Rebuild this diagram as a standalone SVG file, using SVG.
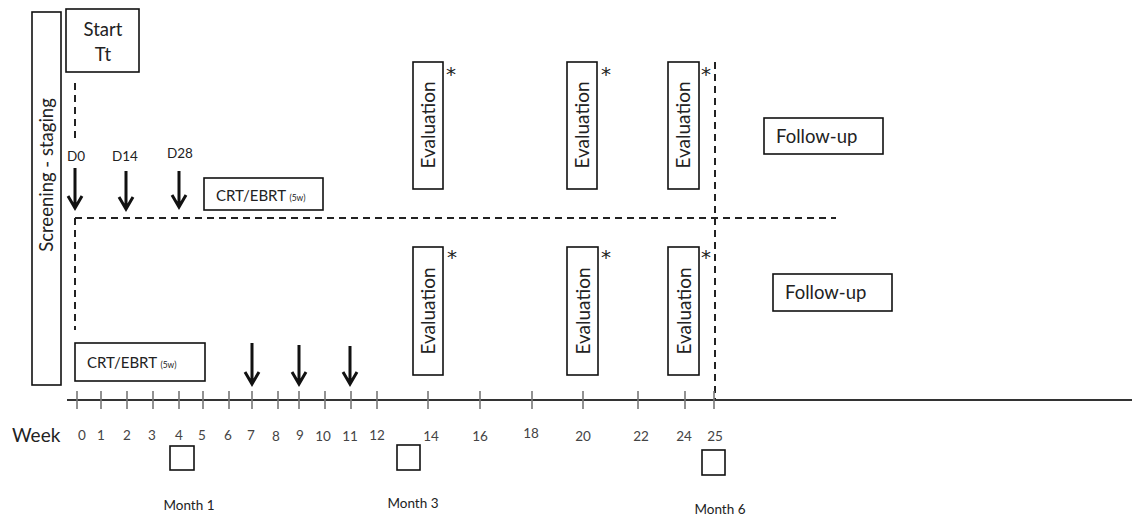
<svg xmlns="http://www.w3.org/2000/svg" width="1132" height="518" viewBox="0 0 1132 518">
<defs>
<style>
text{font-family:Lato,"Open Sans","Liberation Sans",sans-serif;fill:#222}
.box{fill:#fff;stroke:#111;stroke-width:1.6}
.dash{stroke:#222;stroke-width:2;stroke-dasharray:7,5;fill:none}
.arr{stroke:#111;stroke-width:3;fill:none;stroke-linejoin:miter}
.tick{stroke:#777;stroke-width:1.6}
.lab{font-size:18.5px}
.num{font-size:13.5px;text-anchor:middle;fill:#444}
.mon{font-size:13.5px;text-anchor:middle}
.star{font-family:"DejaVu Sans",sans-serif;font-size:20px;fill:#222}
.ev{font-size:19px;text-anchor:middle}
</style>
</defs>
<rect width="1132" height="518" fill="#fff"/>

<g id="connectors">
<line class="dash" x1="75" y1="83" x2="75" y2="143"/>
<line class="dash" x1="75" y1="218" x2="75" y2="330"/>
<line class="dash" x1="75" y1="218" x2="836" y2="218"/>
<line class="dash" x1="715" y1="62" x2="715" y2="400"/>
<line x1="67" y1="400" x2="1132" y2="400" stroke="#333" stroke-width="2"/>
<g class="tick">
<line x1="77" y1="391" x2="77" y2="409"/><line x1="101" y1="391" x2="101" y2="409"/>
<line x1="127" y1="391" x2="127" y2="409"/><line x1="153" y1="391" x2="153" y2="409"/>
<line x1="179" y1="391" x2="179" y2="409"/><line x1="203" y1="391" x2="203" y2="409"/>
<line x1="229" y1="391" x2="229" y2="409"/><line x1="252" y1="391" x2="252" y2="409"/>
<line x1="278" y1="391" x2="278" y2="409"/><line x1="299" y1="391" x2="299" y2="409"/>
<line x1="325" y1="391" x2="325" y2="409"/><line x1="351" y1="391" x2="351" y2="409"/>
<line x1="377" y1="391" x2="377" y2="409"/><line x1="428" y1="391" x2="428" y2="409"/>
<line x1="480" y1="391" x2="480" y2="409"/><line x1="532" y1="391" x2="532" y2="409"/>
<line x1="583" y1="391" x2="583" y2="409"/><line x1="638" y1="391" x2="638" y2="409"/>
<line x1="685" y1="391" x2="685" y2="409"/><line x1="714" y1="391" x2="714" y2="409"/>
</g>
<path class="arr" d="M75,168 V208 M68,196 L75,208 L82,196"/>
<path class="arr" d="M126,171 V209 M119,197 L126,209 L133,197"/>
<path class="arr" d="M179,171 V207 M172,195 L179,207 L186,195"/>
<path class="arr" d="M252,343 V384 M245,372 L252,384 L259,372"/>
<path class="arr" d="M299,345 V384 M292,372 L299,384 L306,372"/>
<path class="arr" d="M350,346 V384 M343,372 L350,384 L357,372"/>
</g>

<g id="screening">
<rect class="box" x="32" y="12" width="29" height="373"/>
<text class="lab" transform="translate(53,175) rotate(-90)" text-anchor="middle">Screening - staging</text>
</g>
<g id="start">
<rect class="box" x="66" y="9" width="73" height="63"/>
<text class="lab" x="103" y="36" text-anchor="middle">Start</text>
<text class="lab" x="103" y="61" text-anchor="middle">Tt</text>
</g>
<g id="days">
<text x="67" y="161" font-size="13.5">D0</text>
<text x="112" y="161" font-size="13.5">D14</text>
<text x="167" y="158" font-size="13.5">D28</text>
</g>
<g id="crt-top">
<rect class="box" x="204" y="178" width="119" height="32"/>
<text x="216" y="201" font-size="15">CRT/EBRT <tspan font-size="8.5">(5w)</tspan></text>
</g>
<g id="crt-bottom">
<rect class="box" x="75" y="343" width="130" height="38"/>
<text x="87" y="368" font-size="15">CRT/EBRT <tspan font-size="8.5">(5w)</tspan></text>
</g>

<g id="eval-top-1"><rect class="box" x="413" y="62" width="30" height="127"/><text class="ev" transform="translate(435,125) rotate(-90)">Evaluation</text><text class="star" x="446" y="81">*</text></g>
<g id="eval-top-2"><rect class="box" x="567" y="62" width="30" height="127"/><text class="ev" transform="translate(589,125) rotate(-90)">Evaluation</text><text class="star" x="601" y="81">*</text></g>
<g id="eval-top-3"><rect class="box" x="668" y="62" width="31" height="127"/><text class="ev" transform="translate(690,125) rotate(-90)">Evaluation</text><text class="star" x="701" y="81">*</text></g>
<g id="eval-bot-1"><rect class="box" x="413" y="247" width="30" height="128"/><text class="ev" transform="translate(435,311) rotate(-90)">Evaluation</text><text class="star" x="447" y="264">*</text></g>
<g id="eval-bot-2"><rect class="box" x="567" y="247" width="31" height="128"/><text class="ev" transform="translate(590,311) rotate(-90)">Evaluation</text><text class="star" x="601" y="264">*</text></g>
<g id="eval-bot-3"><rect class="box" x="668" y="247" width="31" height="128"/><text class="ev" transform="translate(691,311) rotate(-90)">Evaluation</text><text class="star" x="701" y="264">*</text></g>

<g id="followup-top"><rect class="box" x="764" y="118" width="119" height="36"/><text class="lab" x="776" y="143">Follow-up</text></g>
<g id="followup-bot"><rect class="box" x="773" y="274" width="119" height="37"/><text class="lab" x="785" y="299">Follow-up</text></g>

<g id="week-labels">
<text x="12" y="442" font-size="19">Week</text>
<text class="num" x="82" y="440">0</text><text class="num" x="101" y="440">1</text>
<text class="num" x="127" y="440">2</text><text class="num" x="152" y="440">3</text>
<text class="num" x="179" y="440">4</text><text class="num" x="202" y="440">5</text>
<text class="num" x="228" y="440">6</text><text class="num" x="251" y="440">7</text>
<text class="num" x="276" y="441">8</text><text class="num" x="300" y="440">9</text>
<text class="num" x="323" y="441">10</text><text class="num" x="350" y="441">11</text>
<text class="num" x="377" y="440">12</text><text class="num" x="431" y="441">14</text>
<text class="num" x="480" y="441">16</text><text class="num" x="531" y="438">18</text>
<text class="num" x="583" y="441">20</text><text class="num" x="641" y="441">22</text>
<text class="num" x="684" y="441">24</text><text class="num" x="715" y="441">25</text>
</g>

<g id="month1"><rect class="box" x="170" y="446" width="24" height="24"/><text class="mon" x="189" y="510">Month 1</text></g>
<g id="month3"><rect class="box" x="397" y="445" width="23" height="25"/><text class="mon" x="413" y="508">Month 3</text></g>
<g id="month6"><rect class="box" x="702" y="450" width="23" height="25"/><text class="mon" x="720" y="514">Month 6</text></g>
</svg>
